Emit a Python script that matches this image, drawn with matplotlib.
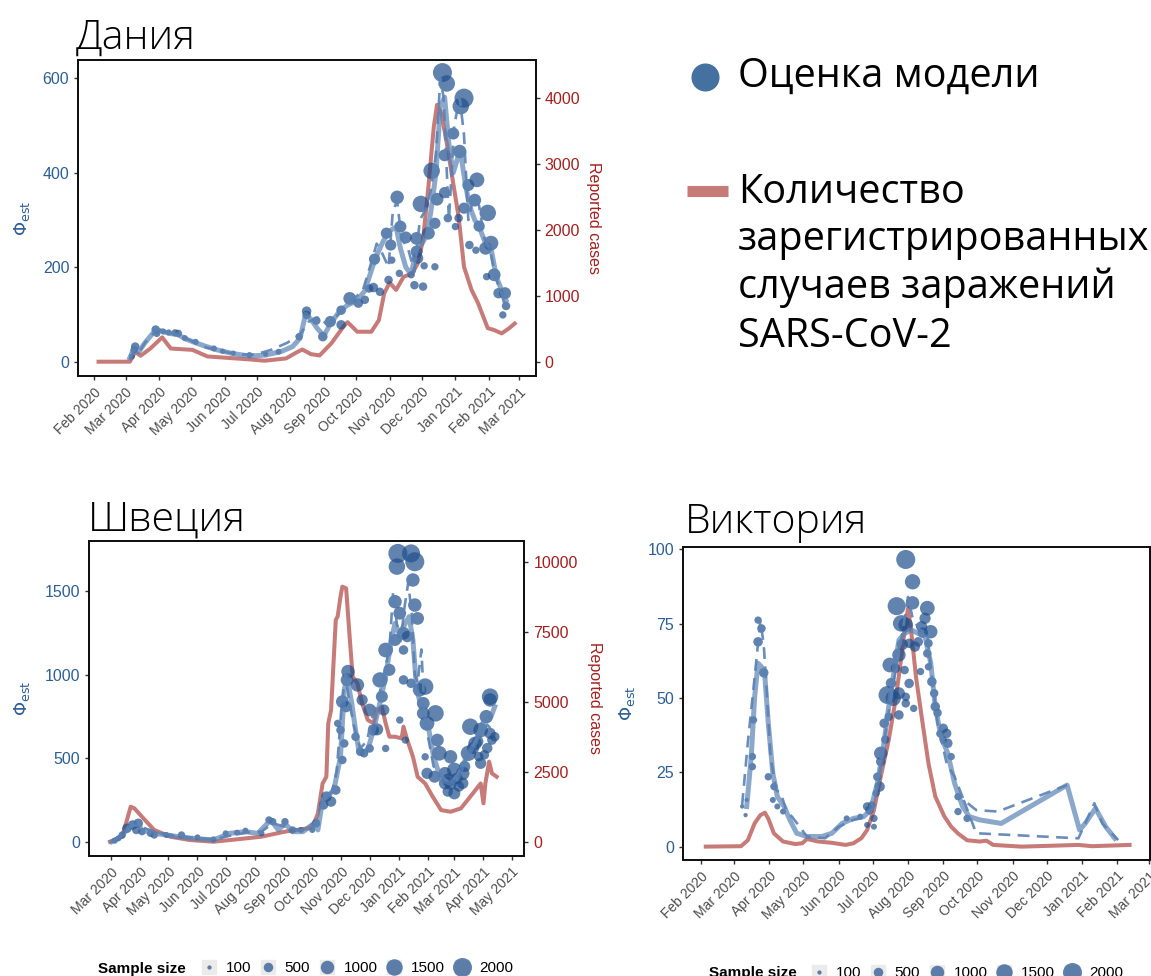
import numpy as np
import matplotlib
matplotlib.use("Agg")
import matplotlib.pyplot as plt
import matplotlib.dates as mdates
from matplotlib.lines import Line2D

plt.rcParams['font.family'] = ['Liberation Sans', 'DejaVu Sans']

# ---- data (day = days since 2020-01-01) ----
# Denmark
dk_case_day = [35, 64, 69, 74, 83, 94, 102, 122, 136, 175, 189, 209, 218, 224, 232, 240, 251, 262, 266, 275,
               288, 295, 300, 305, 311, 318, 326, 331, 336, 341, 346, 349, 353, 358, 363, 369, 374, 381, 387, 396,
               402, 409, 416, 421]
dk_cases = [0, 0, 150, 90, 200, 370, 200, 180, 80, 35, 15, 50, 135, 185, 115, 95, 280, 530, 600, 455,
            455, 630, 1040, 1200, 1090, 1290, 1340, 1490, 1850, 2660, 3570, 3900, 3770, 3320, 2810, 2200, 1440, 1090, 890, 510,
            480, 430, 510, 580]
dk_fit_day = [64, 68, 72, 78, 86, 92, 100, 108, 116, 125, 135, 145, 160, 175, 190, 205, 215, 222, 227, 232,
              238, 244, 250, 258, 266, 274, 282, 289, 294, 299, 303, 307, 311, 315, 320, 325, 330, 335, 340, 344,
              348, 352, 356, 360, 364, 368, 371, 375, 379, 384, 389, 394, 399, 404, 409, 413]
dk_fit = [8, 30, 20, 40, 62, 66, 60, 58, 48, 40, 32, 25, 17, 12, 14, 22, 32, 50, 100, 90,
          70, 55, 80, 105, 120, 128, 150, 200, 230, 255, 270, 280, 285, 240, 200, 185, 240, 250, 270, 330,
          400, 540, 560, 460, 400, 430, 440, 380, 330, 300, 280, 250, 240, 180, 150, 130]
dk_dash_day = [64, 68, 72, 78, 85, 90, 100, 110, 120, 135, 150, 165, 180, 195, 210, 222, 230, 240, 248, 255,
               262, 270, 280, 288, 293, 298, 304, 308, 312, 316, 322, 328, 333, 338, 343, 348, 352, 355, 360, 365,
               370, 374, 378, 383, 388, 393, 398, 403, 408, 413]
dk_dash = [5, 25, 18, 40, 58, 68, 62, 55, 45, 30, 22, 15, 15, 25, 40, 58, 85, 95, 75, 95,
           110, 130, 150, 210, 250, 230, 200, 320, 340, 260, 240, 190, 300, 320, 360, 440, 600, 560, 300, 500,
           560, 480, 300, 350, 330, 260, 240, 180, 150, 110]
# (day, phi, sample size)
dk_points = [(354, 612, 2000), (358, 589, 1500), (374, 558, 2000), (371, 541, 1500), (364, 483, 800),
             (356, 437, 800), (370, 445, 1000), (344, 404, 1500), (334, 334, 1500), (312, 348, 1000),
             (396, 315, 1500), (386, 385, 1200), (378, 374, 800), (349, 344, 900), (356, 358, 700),
             (384, 342, 900), (315, 286, 800), (302, 272, 700), (306, 247, 700), (291, 217, 700),
             (320, 263, 800), (330, 261, 900), (330, 233, 800), (341, 272, 900), (347, 293, 700),
             (331, 219, 700), (359, 304, 400), (366, 286, 300), (369, 304, 400), (374, 325, 700),
             (388, 287, 700), (399, 251, 1200), (394, 240, 900), (395, 180, 300), (402, 184, 900),
             (406, 145, 600), (412, 145, 800), (413, 118, 400), (410, 99, 300), (385, 236, 300),
             (379, 247, 400), (337, 203, 300), (347, 201, 300), (336, 159, 400), (328, 162, 400),
             (325, 184, 300), (314, 187, 300), (307, 215, 300), (304, 173, 400), (296, 148, 400),
             (290, 157, 500), (286, 155, 400), (282, 131, 400), (276, 124, 500), (268, 134, 900),
             (260, 109, 500), (260, 78, 500), (250, 85, 700), (243, 53, 500), (237, 87, 400),
             (228, 107, 500), (228, 99, 400), (221, 53, 300), (202, 21, 200), (175, 14, 200),
             (142, 28, 200), (109, 60, 300), (106, 61, 300), (88, 68, 400), (89, 60, 300),
             (69, 32, 400), (68, 25, 300), (66, 11, 200), (95, 64, 200), (100, 62, 200),
             (115, 50, 200), (125, 42, 200), (150, 22, 150), (160, 18, 150), (190, 16, 150)]

# Sweden
se_case_day = [59, 72, 81, 85, 93, 106, 123, 144, 169, 194, 220, 245, 270, 276, 280, 285, 289, 291, 294, 299,
               301, 304, 306, 310, 314, 317, 322, 327, 333, 339, 343, 348, 352, 356, 362, 369, 371, 375, 381, 386,
               394, 402, 411, 421, 432, 442, 453, 456, 458, 462, 465, 470]
se_cases = [0, 180, 1250, 1190, 890, 420, 180, 60, 0, 85, 180, 360, 480, 660, 1010, 2080, 2320, 4230, 4700, 7920,
            8040, 8750, 9110, 9050, 7200, 5890, 5660, 4940, 4350, 4230, 4700, 4820, 4230, 3750, 3750, 3690, 4110, 3630, 3040, 2320,
            2080, 1610, 1130, 1070, 1190, 1610, 2080, 1370, 2080, 2860, 2440, 2320]
se_fit_day = [61, 68, 77, 83, 89, 93, 106, 126, 147, 169, 186, 203, 216, 230, 238, 245, 253, 264, 276, 280,
              285, 290, 297, 304, 308, 311, 316, 320, 324, 333, 339, 345, 352, 358, 362, 366, 371, 377, 381, 385,
              390, 398, 403, 411, 421, 429, 438, 447, 455, 464, 468]
se_fit = [0, 20, 70, 110, 100, 70, 50, 34, 20, 10, 50, 60, 50, 130, 70, 110, 60, 60, 110, 70,
          250, 270, 310, 508, 908, 988, 828, 668, 529, 549, 668, 808, 988, 1207, 1307, 1247, 1287, 1347, 1207, 908,
          808, 668, 508, 369, 349, 389, 508, 588, 708, 748, 808]
se_dash_day = [61, 70, 80, 88, 96, 110, 130, 150, 170, 190, 205, 220, 232, 245, 260, 275, 282, 288, 295, 300,
               305, 309, 313, 318, 325, 332, 338, 344, 350, 356, 360, 364, 368, 372, 376, 380, 383, 386, 390, 394,
               398, 403, 408, 414, 420, 428, 436, 444, 452, 460, 468]
se_dash = [0, 30, 90, 100, 80, 55, 35, 22, 15, 40, 55, 60, 110, 90, 70, 80, 200, 260, 300, 420,
           800, 1000, 850, 700, 560, 600, 750, 850, 1000, 1150, 1500, 1300, 1200, 1400, 1550, 1350, 1000, 950, 1150, 700,
           600, 450, 420, 380, 350, 400, 480, 560, 650, 700, 650]
se_points = [(365, 1725, 2000), (379, 1725, 1800), (383, 1675, 2000), (364, 1646, 1500), (381, 1566, 1000),
             (362, 1436, 1000), (383, 1416, 1000), (386, 1336, 900), (352, 1147, 1200), (367, 1367, 900),
             (362, 1207, 800), (371, 1247, 900), (375, 1227, 700), (346, 968, 1300), (356, 1028, 800),
             (312, 1018, 1000), (311, 968, 900), (322, 938, 1000), (327, 848, 700), (306, 838, 900),
             (310, 808, 700), (335, 788, 900), (339, 668, 700), (343, 672, 800), (348, 868, 800),
             (350, 788, 700), (394, 928, 1500), (388, 908, 1000), (392, 828, 900), (405, 768, 1500),
             (396, 708, 1200), (392, 768, 900), (409, 529, 1200), (407, 608, 900), (421, 508, 1000),
             (425, 429, 1200), (419, 369, 1000), (415, 349, 800), (434, 409, 1000), (442, 688, 1500),
             (440, 529, 1300), (447, 588, 1000), (453, 668, 1200), (459, 748, 1000), (463, 868, 1500),
             (463, 848, 1000), (463, 648, 700), (465, 608, 500), (468, 628, 500), (453, 469, 700),
             (451, 509, 500), (434, 349, 700), (425, 289, 800), (421, 349, 900), (415, 409, 900),
             (404, 389, 800), (396, 409, 700), (371, 1147, 500), (379, 948, 500), (371, 968, 500),
             (367, 728, 300), (352, 558, 300), (373, 608, 300), (394, 508, 300), (325, 539, 400),
             (329, 529, 400), (335, 558, 400), (320, 628, 400), (306, 489, 400), (308, 588, 400),
             (304, 668, 400), (301, 708, 300), (299, 309, 500), (294, 240, 600), (289, 270, 600),
             (286, 220, 500), (278, 110, 400), (274, 70, 200), (262, 70, 200), (253, 70, 300),
             (245, 120, 300), (232, 120, 300), (228, 130, 300), (220, 50, 200), (203, 66, 200),
             (194, 54, 200), (182, 50, 200), (169, 14, 200), (152, 26, 200), (135, 40, 300),
             (119, 40, 200), (106, 40, 300), (102, 50, 300), (89, 110, 500), (83, 100, 500),
             (77, 80, 500), (72, 40, 300), (68, 20, 200), (64, 6, 200), (87, 70, 400), (93, 60, 300),
             (430, 330, 600), (436, 450, 700), (445, 560, 800), (450, 600, 700), (457, 520, 500),
             (460, 560, 600), (428, 380, 700), (418, 300, 600)]

# Victoria
vic_case_day = [35, 66, 72, 78, 83, 87, 90, 95, 103, 114, 120, 124, 134, 146, 158, 165, 172, 177, 183, 189,
                196, 202, 208, 210, 213, 216, 220, 225, 231, 237, 245, 251, 257, 265, 276, 282, 288, 313, 363, 375,
                408]
vic_cases = [0, 1, 15, 55, 74, 80, 66, 31, 12, 6, 8, 18, 12, 9, 4, 8, 20, 39, 86, 165,
             251, 345, 463, 510, 561, 502, 400, 306, 196, 118, 71, 47, 31, 15, 12, 14, 4, 0, 4, 1,
             4]
vic_fit_day = [71, 75, 78, 81, 84, 87, 90, 94, 98, 104, 109, 115, 124, 137, 146, 155, 165, 174, 180, 186,
               191, 196, 200, 205, 210, 216, 222, 228, 233, 237, 242, 248, 254, 261, 267, 276, 295, 353, 364, 369,
               378, 387, 395]
vic_fit = [13.5, 30.3, 50.4, 61.7, 60.5, 57.2, 41.5, 24.7, 16.8, 13.5, 9, 4.5, 3.4, 3.4, 4.5, 7.8, 9.5, 10.1, 12.3, 21.3,
           32.5, 47.1, 57.2, 69.5, 71.7, 72.9, 71.7, 70.6, 61.7, 47.1, 37, 31.4, 21.3, 13.5, 10.1, 9, 7.8, 20.7, 5.6, 7.8,
           12.9, 6.7, 2.8]
vic_dash_day = [67, 72, 78, 83, 86, 89, 92, 97, 101, 106, 111, 117, 124, 140, 152, 165, 177, 183, 189, 199,
                208, 213, 217, 223, 230, 234, 239, 247, 254, 262, 273, 292, 353]
vic_dash = [14, 35, 57, 76, 68, 50, 30, 19, 18, 12, 10, 7, 3.4, 2.8, 6.7, 9, 10, 13.5, 28, 52.7,
            71.7, 84, 77, 73, 71.7, 57, 41.5, 28, 23.5, 15.7, 12.3, 11.8, 20.7]
vic_dash2_day = [262, 273, 363, 377, 384, 398]
vic_dash2 = [15.7, 4.5, 2.8, 14.6, 7.8, 2.2]
vic_points = [(211, 96.6, 2000), (217, 89.1, 1300), (203, 80.9, 1800), (217, 82, 1000), (230, 80.2, 1200),
              (207, 75.1, 1500), (211, 74.6, 1200), (233, 72.3, 1000), (225, 74, 700), (197, 61.1, 1200),
              (205, 64.5, 1000), (195, 51, 1800), (200, 49.9, 1300), (205, 51.6, 800), (189, 31.4, 1000),
              (188, 20.2, 600), (186, 23.5, 400), (189, 28.6, 500), (192, 41.5, 500), (196, 43.7, 400),
              (205, 44.3, 500), (211, 50.4, 400), (214, 54.9, 500), (210, 59.4, 400), (214, 68.4, 500),
              (219, 67.3, 600), (222, 68.9, 500), (224, 58.9, 300), (228, 76.8, 700), (231, 68.4, 400),
              (230, 65, 400), (231, 60.5, 300), (234, 55.5, 500), (236, 51.6, 400), (237, 47.1, 500),
              (244, 39.8, 500), (247, 38.1, 500), (248, 34.8, 500), (244, 35.9, 300), (251, 30.3, 300),
              (257, 16.8, 300), (257, 11.8, 300), (265, 9.5, 300), (218, 46.5, 300), (211, 48.2, 400),
              (177, 13.5, 400), (179, 12.3, 400), (183, 9.5, 300), (183, 6.7, 200), (177, 7.3, 200),
              (171, 10.1, 200), (159, 9.5, 200), (81, 76.2, 300), (84, 73.4, 400), (81, 68.9, 500),
              (86, 58.5, 500), (77, 42.6, 300), (76, 30.3, 300), (76, 26.9, 300), (90, 23.5, 300),
              (95, 20.2, 300), (94, 15.7, 200), (98, 13.5, 200), (103, 11.8, 200), (70, 10.6, 100),
              (67, 13.5, 100), (71, 15.7, 100), (193, 36, 400), (198, 55, 600), (202, 60, 500),
              (208, 68, 700), (226, 72, 600), (239, 45, 400), (241, 38, 300), (185, 18, 300), (181, 14, 300)]

sample_sizes = [100, 500, 1000, 1500, 2000]

# ---- style ----
W, H = 1151, 976
PT = '#1f4f8c'
LINE = '#5a82b4'
RED = '#b85a56'
BLUE_TXT = '#2c5f96'
RED_TXT = '#a51f1f'
TITLE_FONT = ['Open Sans', 'DejaVu Sans']
SIZE_K = 0.094
day0 = mdates.date2num(np.datetime64('2020-01-01'))


def dx(days):
    return day0 + np.asarray(days, dtype=float)


fig = plt.figure(figsize=(W / 100, H / 100), dpi=100)


def panel(rect, title, title_pos, case_day, cases, fit_day, fit, dashes, points,
          xlim, ylim, yticks, clim, cticks, ylab_x, rlab_x):
    ax = fig.add_axes(rect)
    tw = ax.twinx()
    ax.set_zorder(tw.get_zorder() + 1)
    ax.patch.set_visible(False)

    tw.plot(dx(case_day), cases, color=RED, lw=2.9, alpha=0.8, solid_joinstyle='round')
    ax.plot(dx(fit_day), fit, color=LINE, lw=3.6, alpha=0.7, solid_joinstyle='round')
    for d_day, d_val in dashes:
        ax.plot(dx(d_day), d_val, color=LINE, lw=1.9, alpha=0.9, ls=(0, (4.5, 2.8)))
    p_day, p_val, p_n = zip(*points)
    ax.scatter(dx(p_day), p_val, s=np.array(p_n) * SIZE_K, color=PT, alpha=0.7, lw=0)

    ax.set_xlim(day0 + xlim[0], day0 + xlim[1])
    ax.set_ylim(*ylim)
    ax.set_yticks(yticks)
    tw.set_ylim(*clim)
    tw.set_yticks(cticks)
    ax.xaxis.set_major_locator(mdates.MonthLocator())
    ax.xaxis.set_major_formatter(mdates.DateFormatter('%b %Y'))

    for a in (ax, tw):
        for s in a.spines.values():
            s.set_linewidth(1.4)
            s.set_color('#111111')
    ax.tick_params(axis='y', labelsize=11.5, labelcolor=BLUE_TXT, color='#333333', length=3, width=1)
    tw.tick_params(axis='y', labelsize=11.5, labelcolor=RED_TXT, color='#333333', length=3, width=1,
                   labelright=rlab_x is not None)
    ax.tick_params(axis='x', labelsize=10, labelcolor='#4d4d4d', color='#333333', length=3, width=1,
                   labelrotation=45)
    plt.setp(ax.get_xticklabels(), ha='right', rotation_mode='anchor')

    ax.set_ylabel(r'$\Phi_{\mathrm{est}}$', color=BLUE_TXT, fontsize=13)
    ax.yaxis.set_label_coords(ylab_x, 0.5)
    if rlab_x is not None:
        tw.set_ylabel('Reported cases', color=RED_TXT, fontsize=11.5, rotation=270, va='bottom')
        tw.yaxis.set_label_coords(rlab_x, 0.5)

    fig.text(title_pos[0] / W, 1 - title_pos[1] / H, title, fontsize=29.5, family=TITLE_FONT,
             weight='light', va='baseline', ha='left')
    return ax


panel([78.3 / W, 1 - 376 / H, 457.4 / W, 316 / H], 'Дания', (76, 49),
      dk_case_day, dk_cases, dk_fit_day, dk_fit, [(dk_dash_day, dk_dash)], dk_points,
      (16.2, 440.5), (-30.3, 638.7), [0, 200, 400, 600], (-217, 4581), [0, 1000, 2000, 3000, 4000],
      -0.101, 1.11)

panel([89.3 / W, 1 - 856 / H, 435 / W, 315.3 / H], 'Швеция', (88, 530),
      se_case_day, se_cases, se_fit_day, se_fit, [(se_dash_day, se_dash)], se_points,
      (37, 499.4), (-85.6, 1801), [0, 500, 1000, 1500], (-510, 10750), [0, 2500, 5000, 7500, 10000],
      -0.132, 1.144)

panel([683.3 / W, 1 - 860 / H, 466.7 / W, 313.3 / H], 'Виктория', (685, 533),
      vic_case_day, vic_cases, vic_fit_day, vic_fit,
      [(vic_dash_day, vic_dash), (vic_dash2_day, vic_dash2)], vic_points,
      (15.2, 426), (-4.5, 100.9), [0, 25, 50, 75, 100], (-31.5, 706.3), [0, 200, 400, 600],
      -0.099, None)

# legend for the marks (top right)
fig.add_artist(Line2D([705 / W], [1 - 76.7 / H], marker='o', ms=19.2, color='#44719f', ls=''))
fig.add_artist(Line2D([686.7 / W, 728.3 / W], [1 - 191 / H, 1 - 191 / H], lw=8, color='#c67b78',
                      solid_capstyle='butt'))
fig.text(738 / W, 1 - 76.7 / H, 'Оценка модели', fontsize=28.5, family=TITLE_FONT, va='center', ha='left')
for txt, base in zip(['Количество', 'зарегистрированных', 'случаев заражений', 'SARS-CoV-2'],
                     [202.7, 250.5, 298.3, 346.7]):
    fig.text(738 / W, 1 - base / H, txt, fontsize=28.5, family=TITLE_FONT, va='baseline', ha='left')


# sample size legends
def size_legend(x_text, x_keys, y):
    fig.text(x_text / W, 1 - y / H, 'Sample size', fontweight='bold', fontsize=11, va='center', ha='left')
    handles = [(Line2D([], [], ls='', marker='s', ms=10.5, color='#ebebeb'),
                Line2D([], [], ls='', marker='o', ms=np.sqrt(n * SIZE_K), color=PT, alpha=0.7, mew=0))
               for n in sample_sizes]
    fig.legend(handles, [str(n) for n in sample_sizes], loc='center left',
               bbox_to_anchor=(x_keys / W, 1 - y / H), ncol=5, frameon=False, fontsize=11,
               handlelength=1.0, handletextpad=0.6, columnspacing=0.6, borderpad=0, borderaxespad=0)


size_legend(98, 201, 968.5)
size_legend(709, 811, 973)

fig.savefig('out.png', dpi=100)
